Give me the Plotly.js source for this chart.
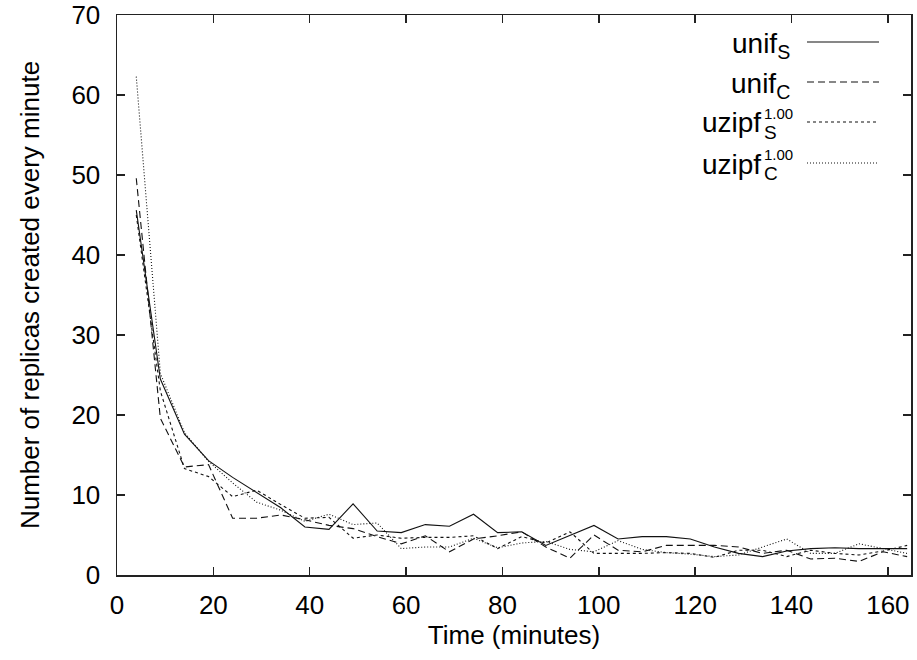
<!DOCTYPE html>
<html>
<head>
<meta charset="utf-8">
<script src="https://cdn.plot.ly/plotly-3.0.1.min.js"></script>
<style>html,body{margin:0;padding:0;background:#fff;}#chart{width:917px;height:660px;}</style>
</head>
<body>
<div id="chart"></div>
<script>
// Data (minutes vs replicas created per minute)
const timeMinutes = [4,9,14,19,24,29,34,39,44,49,54,59,64,69,74,79,84,89,94,99,104,109,114,119,124,129,134,139,144,149,154,159,164];
const unifS  = [45.6,24.5,17.6,14.3,12.2,10.3,8.4,6.0,5.7,8.9,5.5,5.3,6.3,6.1,7.6,5.3,5.4,3.7,5.0,6.2,4.5,4.8,4.8,4.5,3.5,2.7,2.3,3.0,3.3,3.4,3.3,3.3,3.3];
const unifC  = [49.6,19.6,13.5,13.8,7.1,7.1,7.5,6.9,6.2,5.8,4.8,3.9,4.9,2.9,4.5,4.9,5.4,3.5,2.1,5.0,3.1,2.9,3.7,3.7,3.7,3.5,2.7,3.1,2.0,2.1,1.7,2.9,2.3];
const uzipfS = [45.0,23.0,13.3,12.3,9.8,10.6,8.8,7.1,7.2,4.6,5.0,4.6,4.7,4.7,4.9,3.3,4.8,4.0,5.4,2.7,2.7,2.7,2.8,2.7,2.2,3.1,3.1,2.3,3.1,2.7,2.5,3.0,3.7];
const uzipfC = [62.3,25.2,17.8,14.2,11.5,9.1,8.1,6.7,7.6,6.3,6.5,3.3,3.5,3.5,4.6,3.4,4.0,4.2,3.2,2.9,4.3,3.2,2.8,2.6,2.3,2.5,3.5,4.5,2.7,2.7,3.9,3.3,2.7];
const xTicks = [0,20,40,60,80,100,120,140,160];
const yTicks = [0,10,20,30,40,50,60,70];
const seriesBase = ['unif', 'unif', 'uzipf', 'uzipf'];
const seriesSub = ['S', 'C', 'S', 'C'];
const seriesSup = ['', '', '1.00', '1.00'];

const FONT = 'Liberation Sans, Arial, Helvetica, sans-serif';
const dashes = ['solid', '7px,4px', '3px,3px', '1px,2px'];
const seriesY = [unifS, unifC, uzipfS, uzipfC];
const traces = seriesY.map((y, i) => ({
  x: timeMinutes, y: y, type:'scatter', mode:'lines', name: seriesBase[i] + seriesSub[i],
  line:{color:'#111', width:1.1, dash:dashes[i]}, showlegend:false
}));

// custom gnuplot-style legend (text right, sample line to its right)
const L = 117, T = 15, W = 794, H = 560;
const px = v => (v - L) / W;
const py = v => (575 - v) / H;
const rows = [42, 82, 122, 163];
const annotations = [];
const shapes = [];
seriesBase.forEach((t, i) => {
  if (!seriesSup[i]) {
    annotations.push({xref:'paper', yref:'paper', x:px(792), y:py(rows[i] + 3),
      xanchor:'right', yanchor:'middle', text:t + '<sub>' + seriesSub[i] + '</sub>', showarrow:false,
      font:{family:FONT, size:28, color:'#000'}});
  } else {
    annotations.push({xref:'paper', yref:'paper', x:px(763), y:py(rows[i] + 1),
      xanchor:'right', yanchor:'middle', text:t, showarrow:false,
      font:{family:FONT, size:28, color:'#000'}});
    annotations.push({xref:'paper', yref:'paper', x:px(762), y:py(rows[i] + 10),
      xanchor:'left', yanchor:'middle', text:seriesSub[i], showarrow:false,
      font:{family:FONT, size:19, color:'#000'}});
    annotations.push({xref:'paper', yref:'paper', x:px(762), y:py(rows[i] - 9),
      xanchor:'left', yanchor:'middle', text:seriesSup[i], showarrow:false,
      font:{family:FONT, size:15, color:'#000'}});
  }
  shapes.push({type:'line', xref:'paper', yref:'paper', x0:px(807), x1:px(879), y0:py(rows[i]), y1:py(rows[i]),
    line:{color:'#111', width:1.1, dash:dashes[i]}});
});

const layout = {
  width:917, height:660,
  margin:{l:L, r:917-911, t:T, b:85},
  paper_bgcolor:'#fff', plot_bgcolor:'#fff',
  font:{family:FONT, size:26, color:'#000'},
  xaxis:{range:[0,164.8], tickvals:xTicks, ticktext:xTicks.map(String), ticks:'inside', ticklen:8, tickwidth:1.5,
    tickcolor:'#222', showline:true, linecolor:'#222', linewidth:1.5, mirror:'ticks', showgrid:false, zeroline:false,
    ticklabelstandoff:6, tickfont:{family:FONT, size:26},
    title:{text:'Time (minutes)', font:{family:FONT, size:26}, standoff:0}},
  yaxis:{range:[0,70], tickvals:yTicks, ticktext:yTicks.map(String), ticks:'inside', ticklen:8, tickwidth:1.5,
    tickcolor:'#222', showline:true, linecolor:'#222', linewidth:1.5, mirror:'ticks', showgrid:false, zeroline:false,
    ticklabelstandoff:10,
    tickfont:{family:FONT, size:26}, title:{text:'Number of replicas created every minute', font:{family:FONT, size:26}, standoff:24}},
  showlegend:false,
  annotations, shapes
};
Plotly.newPlot('chart', traces, layout, {displayModeBar:false, staticPlot:true});
</script>
</body>
</html>
